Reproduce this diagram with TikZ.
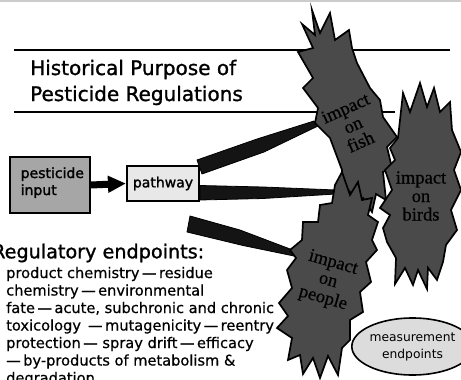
\documentclass[tikz,border=0pt]{standalone}
\usepackage{fontspec}
\setmainfont{DejaVu Sans}
\newfontfamily\burstfont{Liberation Serif}[FakeBold=0.6]
\newfontfamily\heavysans{DejaVu Sans}[FakeBold=1.2]
\newfontfamily\midsans{DejaVu Sans}[FakeBold=0.6]
\newfontfamily\boxsans{DejaVu Sans}[FakeBold=1.6]
\usetikzlibrary{arrows.meta,shapes.geometric}
\definecolor{burstgray}{HTML}{4A4A4A}
\definecolor{inputgray}{HTML}{A6A6A6}
\definecolor{pathgray}{HTML}{E8E8E8}
\definecolor{ovalgray}{HTML}{DCDCDC}
\definecolor{rulegray}{HTML}{CCCCCC}
\tikzset{
  burst/.style={draw=black,line width=1.7pt,fill=burstgray,line join=miter,miter limit=20},
  wedge/.style={draw=black,line width=0.8pt,fill=black!92,line join=round},
  titlerule/.style={draw=black,line width=1.1pt},
  txt/.style={inner sep=0pt,anchor=base west},
  bodytxt/.style={txt,font=\midsans\fontsize{14.6}{17.5}\selectfont},
  boxtxt/.style={font=\boxsans\fontsize{14}{17}\selectfont},
  burstlabel/.style={font=\burstfont\fontsize{18.5}{18.5}\selectfont,align=center,inner sep=0pt,text=black},
  box/.style={draw=black,line width=1.6pt,inner sep=0pt}
}
\begin{document}
\begin{tikzpicture}[x=1pt,y=-1pt]
\useasboundingbox (0,0) rectangle (461,380);
% top border
\draw[rulegray,line width=2pt] (0,1) -- (461,1);
% title rules
\coordinate (r1a) at (14,50); \coordinate (r1b) at (450,50);
\coordinate (r2a) at (14,112); \coordinate (r2b) at (395,112);
\draw[titlerule] (r1a) -- (r1b);
\draw[titlerule] (r2a) -- (r2b);
% title
\node[txt,font=\heavysans\fontsize{20}{26}\selectfont] (t1) at (30,75) {Historical Purpose of};
\node[txt,font=\heavysans\fontsize{20}{26}\selectfont] (t2) at (30,101) {Pesticide Regulations};
% boxes
\node[box,fill=inputgray,minimum width=80pt,minimum height=56.5pt] (pest) at (50,185) {};
\node[txt,boxtxt] (pestA) at (20.5,178) {pesticide};
\node[txt,boxtxt] (pestB) at (20.5,195) {input};
\node[box,fill=pathgray,minimum width=72.5pt,minimum height=34.5pt,boxtxt] (path) at (163,183.5) {pathway};
% arrow
\draw[line width=7pt,-{Triangle[length=18pt,width=16pt]}] (pest.east) -- (path.west);
% wedges
\coordinate (fw1) at (197,160); \coordinate (fw2) at (202,174);
\coordinate (fwt1) at (314,121); \coordinate (fwt2) at (318,126);
\draw[wedge] (fw1) -- (257,139) -- (fwt1) -- (fwt2) -- (264,152) -- (fw2) -- cycle;
\coordinate (bw1) at (200,185.5); \coordinate (bw2) at (200,200);
\coordinate (bwt1) at (336,190); \coordinate (bwt2) at (336,194);
\draw[wedge] (bw1) -- (263,187) -- (bwt1) -- (bwt2) -- (263,198.5) -- (bw2) -- cycle;
\coordinate (pw1) at (190,216); \coordinate (pw2) at (187,232);
\coordinate (pwt1) at (298,252); \coordinate (pwt2) at (294,256);
\draw[wedge] (pw1) -- (240,230) -- (pwt1) -- (pwt2) -- (243,245.5) -- (pw2) -- cycle;
% fish burst
\draw[burst] (312,10) -- (320,33) -- (330,13) -- (335,40) -- (349,30) -- (352,48) -- (357,63)
  -- (370,88) -- (380,100) -- (383,117) -- (397,137) -- (387,147) -- (392,168) -- (383,172)
  -- (386,200) -- (376,194) -- (372,212) -- (363,198) -- (354,210) -- (350,192) -- (342,182)
  -- (342,170) -- (330,138) -- (315,123) -- (318,108) -- (303,88) -- (313,78) -- (298,52)
  -- (313,48) -- (302,24) -- (315,35) -- cycle;
% birds burst
\draw[burst] (400,120) -- (403,93) -- (410,112) -- (420,83) -- (427,107) -- (434,88) -- (440,112)
  -- (450,102) -- (452,130) -- (461,152) -- (454,170) -- (461,190) -- (451,210) -- (457,230)
  -- (446,245) -- (443,262) -- (437,280) -- (428,268) -- (427,289) -- (418,270) -- (413,285)
  -- (405,268) -- (395,284) -- (396,258) -- (387,242) -- (383,228) -- (390,215) -- (380,208)
  -- (392,190) -- (385,170) -- (395,160) -- (390,148) -- (398,138) -- cycle;
% people burst
\draw[burst] (342,172) -- (350,195) -- (358,182) -- (362,200) -- (372,198) -- (368,215) -- (378,222)
  -- (372,240) -- (377,250) -- (366,262) -- (371,282) -- (360,292) -- (363,312) -- (350,320)
  -- (350,340) -- (342,348) -- (338,375) -- (328,356) -- (320,378) -- (313,358) -- (303,374)
  -- (300,355) -- (288,360) -- (292,338) -- (277,328) -- (288,316) -- (279,303) -- (292,288)
  -- (287,270) -- (296,258) -- (290,250) -- (302,240) -- (303,222) -- (318,222) -- (320,205)
  -- (332,203) -- (335,185) -- cycle;
% burst labels
\node[burstlabel,rotate=24] (fish) at (353,125) {impact\\on\\fish};
\node[burstlabel] (birds) at (421,196) {impact\\on\\birds};
\node[burstlabel,rotate=-16] (people) at (328,281) {impact\\on\\people};
% regulatory endpoints
\node[txt,font=\heavysans\fontsize{19.2}{22}\selectfont] (reg) at (-8,258.3) {Regulatory endpoints:};
\node[bodytxt] (l1) at (6,278) {product chemistry\,—\,residue};
\node[bodytxt] (l2) at (6,295.5) {chemistry\,—\,environmental};
\node[bodytxt] (l3) at (6,313) {fate\,—\,acute, subchronic and chronic};
\node[bodytxt] (l4) at (6,330.5) {toxicology \,—\,mutagenicity\,—\,reentry};
\node[bodytxt] (l5) at (6,348) {protection\,— spray drift\,—\,efficacy};
\node[bodytxt] (l6) at (6,365.5) {—\,by-products of metabolism \&};
\node[bodytxt] (l7) at (6,383) {degradation};
% measurement endpoints
\node[ellipse,draw=black,line width=1.6pt,fill=ovalgray,minimum width=95pt,minimum height=57pt,inner sep=0pt,align=center,font=\fontsize{12.3}{17}\selectfont] (meas) at (412.5,346.5) {measurement\\endpoints};
\end{tikzpicture}
\end{document}
